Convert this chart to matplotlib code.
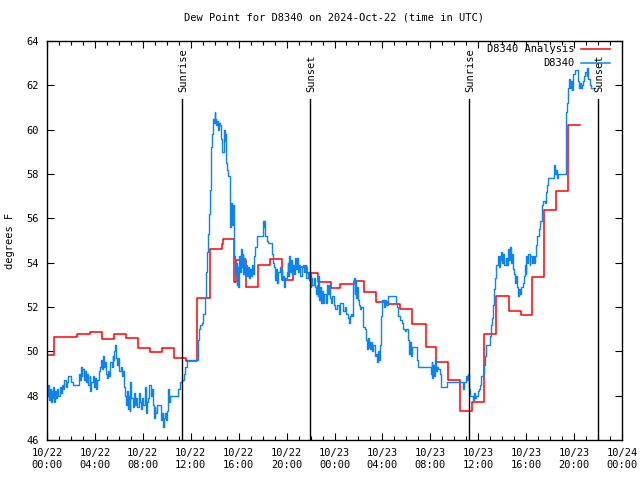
import matplotlib
matplotlib.use("Agg")
from matplotlib import pyplot as plt

# hours since 2024-10-22 00:00 UTC
analysis_hours = [0.0, 0.55, 2.5, 3.55, 4.55, 5.6, 6.57, 7.6, 8.6, 9.57, 10.6, 11.58,
                  12.55, 13.6, 14.58, 14.7, 15.6, 15.75, 16.6, 17.6, 18.6, 19.6, 20.56,
                  21.7, 22.6, 23.7, 24.5, 25.6, 26.5, 27.5, 28.5, 29.5, 30.5, 31.6,
                  32.5, 33.5, 34.5, 35.5, 36.5, 37.5, 38.6, 39.6, 40.5, 41.5, 42.5,
                  43.5, 44.5]
analysis_dewpt = [49.84, 50.65, 50.77, 50.86, 50.56, 50.77, 50.62, 50.14, 49.96, 50.14,
                  49.70, 49.58, 52.40, 54.60, 54.84, 55.05, 53.14, 54.12, 52.89, 53.90,
                  54.15, 53.21, 53.79, 53.55, 53.11, 52.84, 53.02, 53.19, 52.69, 52.24,
                  52.12, 51.90, 51.23, 50.18, 49.52, 48.71, 47.31, 47.73, 50.77, 52.48,
                  51.81, 51.64, 53.34, 56.38, 57.23, 60.21, 60.21]

obs_hours = [
    0.00, 0.08, 0.15, 0.22, 0.30, 0.38, 0.45, 0.52, 0.60, 0.68, 0.75, 0.85, 0.95, 1.05,
    1.15, 1.25, 1.35, 1.45, 1.55, 1.65, 1.75, 1.90, 2.00, 2.20, 2.60, 2.65, 2.72, 2.80,
    2.88, 2.95, 3.05, 3.15, 3.25, 3.35, 3.45, 3.55, 3.62, 3.70, 3.80, 3.90, 4.00, 4.10,
    4.20, 4.30, 4.40, 4.50, 4.58, 4.65, 4.72, 4.80, 4.90, 5.00, 5.10, 5.20, 5.30, 5.40,
    5.50, 5.55, 5.62, 5.68, 5.75, 5.85, 5.95, 6.05, 6.15, 6.25, 6.35, 6.45, 6.52, 6.60,
    6.68, 6.75, 6.82, 6.90, 6.95, 7.05, 7.15, 7.25, 7.35, 7.45, 7.55, 7.65, 7.75, 7.85,
    7.95, 8.05, 8.15, 8.25, 8.35, 8.45, 8.55, 8.65, 8.75, 8.82, 8.90, 8.98, 9.05, 9.15,
    9.45, 9.50, 9.60, 9.68, 9.75, 9.85, 9.95, 10.05, 10.12, 10.20, 10.28, 10.90, 10.95,
    11.10, 11.30, 11.40, 11.55, 11.70, 12.55,
    12.60, 12.68, 12.80, 12.95, 13.05, 13.15, 13.25, 13.30, 13.38, 13.45, 13.52, 13.58,
    13.65, 13.72, 13.78, 13.85, 13.92, 14.00, 14.05, 14.12, 14.20, 14.28, 14.35, 14.45,
    14.55, 14.65, 14.75, 14.82, 14.88, 14.95, 15.05, 15.15, 15.25, 15.30, 15.35, 15.42,
    15.50, 15.58, 15.65, 15.70, 15.76, 15.82, 15.88, 15.94, 16.00, 16.06, 16.12, 16.18,
    16.25, 16.32, 16.40, 16.48, 16.55, 16.62, 16.70, 16.78, 16.85, 16.92, 17.00, 17.08,
    17.18, 17.28, 17.38, 17.50, 18.00, 18.08, 18.12, 18.18, 18.35, 18.45, 18.80, 18.88,
    18.95, 19.05, 19.12, 19.20, 19.30, 19.42, 19.50, 19.58, 19.65, 19.72, 19.80, 19.90,
    20.00, 20.08, 20.15, 20.22, 20.30, 20.40, 20.48, 20.55, 20.62, 20.70, 20.78, 20.85,
    20.95, 21.05, 21.15, 21.25, 21.35, 21.45, 21.55, 21.65, 21.75, 21.85, 21.95, 22.00,
    22.08,
    22.15, 22.25, 22.35, 22.45, 22.52, 22.60, 22.66, 22.72, 22.80, 22.88, 22.95, 23.05,
    23.15, 23.25, 23.35, 23.45, 23.55, 23.62, 23.72, 23.82, 23.92, 24.05, 24.20, 24.35,
    24.50, 24.68, 24.75, 24.85, 24.95, 25.10, 25.20, 25.28, 25.35, 25.45, 25.55, 25.62,
    25.70, 25.75, 25.82, 25.90, 25.98, 26.05, 26.15, 26.25, 26.35, 26.55, 26.65, 26.72,
    26.78, 26.85, 26.92, 27.00, 27.08, 27.15, 27.25, 27.35, 27.45, 27.55, 27.62, 27.70,
    27.78, 27.85, 27.92, 28.00, 28.10, 28.20, 28.30, 28.45, 29.05, 29.10, 29.20, 29.30,
    29.45, 29.60, 29.70, 29.85, 29.95, 30.10, 30.20, 30.28, 30.35, 30.45, 30.85, 30.90,
    31.00, 32.00, 32.05, 32.12, 32.18, 32.25, 32.32, 32.40, 32.48, 32.55, 32.65, 32.80,
    32.90, 33.20, 33.35, 34.70, 34.75, 34.85, 34.95, 35.05, 35.15, 35.25,
    35.35, 35.45, 35.55, 35.65, 35.75, 35.85, 35.95, 36.05, 36.15, 36.25, 36.40, 36.50,
    36.58, 36.65, 36.95, 37.02, 37.08, 37.15, 37.22, 37.30, 37.38, 37.45, 37.52, 37.62,
    37.70, 37.78, 37.85, 37.92, 38.00, 38.08, 38.18, 38.28, 38.38, 38.48, 38.55, 38.62,
    38.70, 38.78, 38.88, 38.95, 39.05, 39.12, 39.20, 39.28, 39.38, 39.48, 39.58, 39.70,
    39.80, 39.88, 39.95, 40.02, 40.10, 40.18, 40.28, 40.36, 40.45, 40.55, 40.62, 40.70,
    40.80, 40.90, 41.05, 41.12, 41.28, 41.40, 41.55, 41.65, 41.75, 41.85, 42.30, 42.40,
    42.46, 42.55, 42.65, 43.25, 43.30, 43.35, 43.45, 43.52, 43.60, 43.68, 43.75, 43.82,
    43.90, 43.95, 44.05, 44.25, 44.32, 44.40, 44.48, 44.55, 44.65, 44.75, 44.85, 44.95,
    45.05, 45.12, 45.20, 45.30, 45.40, 45.75]
obs_dewpt = [
    48.0, 48.5, 47.8, 48.3, 47.7, 48.2, 47.9, 48.4, 47.7, 48.2, 47.9, 48.3, 48.0, 48.4,
    48.1, 48.5, 48.3, 48.7, 48.4, 48.6, 48.9, 48.9, 48.6, 48.5, 48.5, 49.0, 48.7, 49.3,
    48.9, 49.2, 48.7, 49.1, 48.6, 49.0, 48.5, 48.9, 48.2, 48.6, 48.9, 48.4, 48.8, 48.3,
    48.7, 49.1, 49.3, 49.6, 49.2, 49.8, 49.3, 49.5, 49.0, 48.8, 49.1, 48.9, 49.5, 49.3,
    49.8, 49.6, 50.0, 50.3, 49.7, 49.4, 49.7, 49.1, 49.3, 48.9, 49.1, 48.4, 48.0, 47.6,
    48.2, 47.4, 48.0, 47.3, 48.6, 47.9, 47.5, 48.1, 47.6, 47.9, 47.5, 48.1, 47.7, 47.4,
    47.9, 47.6, 48.4, 47.2, 47.7, 47.9, 48.5, 48.0, 48.3, 47.6, 47.0, 47.5, 47.2, 47.6,
    47.6, 46.9, 47.2, 46.6, 47.0, 47.2, 46.9, 47.3, 48.3, 47.7, 48.0, 48.0, 48.3,
    48.6, 48.7, 49.0, 49.3, 49.6, 49.6,
    50.5, 51.0, 51.2, 51.3, 51.7, 52.4, 52.6, 53.6, 54.5, 55.3, 56.2, 57.3,
    58.3, 59.2, 59.8, 60.5, 60.3, 60.8, 60.5, 60.2, 60.4, 60.0, 60.3, 60.2,
    59.6, 59.0, 60.0, 59.5, 59.8, 58.5, 58.2, 57.9, 56.8, 55.6, 56.7, 55.7,
    56.6, 55.7, 54.3, 53.5, 54.0, 53.0, 53.8, 52.9, 53.5, 54.3, 53.6, 54.6,
    53.8, 54.4, 53.5, 54.2, 53.4, 53.9, 53.4, 53.8, 53.3, 53.7, 53.4, 53.9,
    53.5, 54.3, 54.7, 55.2, 55.9, 55.6, 55.9, 55.2, 55.0, 54.9, 54.4, 54.0,
    53.8, 53.2, 53.7, 53.1, 53.6, 53.8, 53.4, 53.7, 53.2, 53.4, 52.9, 53.3,
    53.6, 54.0, 53.4, 54.3, 53.6, 54.1, 53.5, 53.9, 53.5, 54.2, 53.7, 54.2,
    53.6, 53.9, 53.4, 53.8, 53.9, 53.6, 53.9, 53.3, 53.6, 53.2, 53.5, 52.9,
    53.3,
    53.0, 53.3, 52.9, 52.6, 53.0, 52.5, 53.4, 52.3, 52.9, 52.2, 52.7, 52.2,
    52.6, 52.2, 53.0, 52.6, 53.0, 52.4, 52.2, 52.5, 52.1, 51.9, 52.1, 51.7,
    52.2, 52.2, 51.8, 52.0, 51.7, 51.5, 51.3, 51.6, 51.7, 51.6, 53.1, 53.3,
    52.6, 53.2, 52.4, 52.9, 52.3, 52.1, 51.9, 52.0, 51.1, 51.0, 50.5, 50.1,
    50.6, 50.2, 50.4, 50.1, 50.4, 50.0, 50.3, 49.8, 49.9, 49.5, 50.0, 49.6,
    50.3, 51.2, 51.6, 52.3, 52.0, 52.3, 52.1, 52.5, 52.5, 52.2, 52.0, 51.6,
    51.4, 51.3, 51.0, 50.9, 51.0, 50.5, 49.9, 50.4, 49.8, 50.2, 50.2, 49.6,
    49.3, 49.3, 49.0, 49.5, 48.8, 49.4, 48.9, 49.6, 49.1, 49.3, 49.2, 49.0,
    48.4, 48.4, 48.6, 48.6, 48.3, 48.6, 48.9, 48.7, 49.0, 48.3,
    48.0, 48.0, 47.8, 48.1, 47.9, 48.0, 48.2, 48.3, 48.5, 48.9, 49.0, 49.4,
    49.8, 50.3, 50.3, 50.7, 51.2, 51.5, 52.1, 52.8, 53.3, 53.7, 53.9, 54.3,
    53.8, 54.3, 54.1, 54.5, 54.0, 54.4, 53.9, 54.2, 53.9, 54.6, 54.1, 54.7,
    54.0, 54.4, 53.7, 53.5, 53.1, 53.4, 52.9, 52.5, 52.8, 52.6, 52.9, 53.1,
    53.4, 53.9, 53.5, 54.3, 54.0, 54.4, 53.9, 54.3, 54.0, 54.3, 54.0, 54.3,
    54.8, 55.2, 55.5, 55.9, 56.6, 56.8, 56.7, 57.2, 57.5, 57.8, 58.4, 58.0,
    58.2, 57.8, 58.0, 58.0, 59.8, 60.8, 61.2, 61.9, 62.3, 61.9, 62.2, 61.8,
    62.1, 62.5, 62.7, 62.7, 62.2, 61.9, 62.1, 61.9, 62.0, 62.2, 62.4, 62.6,
    62.4, 62.8, 62.3, 62.0, 61.9, 61.9]

sun_events = ["Sunrise", "Sunset", "Sunrise", "Sunset"]
sun_hours = [11.27, 21.95, 35.23, 46.0]

tick_hours = list(range(0, 49, 4))
tick_labels = ["10/22\n00:00", "10/22\n04:00", "10/22\n08:00", "10/22\n12:00",
               "10/22\n16:00", "10/22\n20:00", "10/23\n00:00", "10/23\n04:00",
               "10/23\n08:00", "10/23\n12:00", "10/23\n16:00", "10/23\n20:00",
               "10/24\n00:00"]

RED = "#ff0000"
BLUE = "#0a84f5"
FONT = "DejaVu Sans Mono"

plt.rcParams["font.family"] = FONT
plt.rcParams["font.size"] = 7.5

fig = plt.figure(figsize=(6.4, 4.8), dpi=100)
ax = fig.add_axes([47 / 640, 1 - 440 / 480, 575 / 640, 399 / 480])

ax.plot(analysis_hours, analysis_dewpt, drawstyle="steps-post", color=RED, lw=1.1)
ax.plot(obs_hours, obs_dewpt, drawstyle="steps-post", color=BLUE, lw=1.0)

# sunrise / sunset markers
line_top = 61.38
for name, h in zip(sun_events, sun_hours):
    ax.plot([h, h], [46, line_top], color="black", lw=1.0)
    ax.annotate(name, (h, line_top), xytext=(1, 5), textcoords="offset points",
                rotation=90, ha="center", va="bottom")

ax.set_xlim(0, 48)
ax.set_ylim(46, 64)
ax.set_xticks(tick_hours)
ax.set_xticklabels(tick_labels)
ax.set_xticks(range(0, 49), minor=True)
ax.set_yticks(range(46, 65, 2))
ax.tick_params(which="both", direction="in", top=True, right=True)
ax.tick_params(which="major", length=5, width=0.8, pad=6)
ax.tick_params(which="minor", length=3, width=0.8)
for s in ax.spines.values():
    s.set_linewidth(1.0)

ax.set_title("Dew Point for D8340 on 2024-Oct-22 (time in UTC)", fontsize=7.5, pad=15)
ax.set_ylabel("degrees F", labelpad=8)

# gnuplot-style key, text right aligned
key_rows = [("D8340 Analysis", RED, 0.980), ("D8340", BLUE, 0.945)]
for label, col, yk in key_rows:
    ax.text(0.918, yk, label, transform=ax.transAxes, ha="right", va="center")
    ax.plot([0.929, 0.979], [yk, yk], transform=ax.transAxes, color=col, lw=1.1)

fig.savefig("out.png", dpi=100)
